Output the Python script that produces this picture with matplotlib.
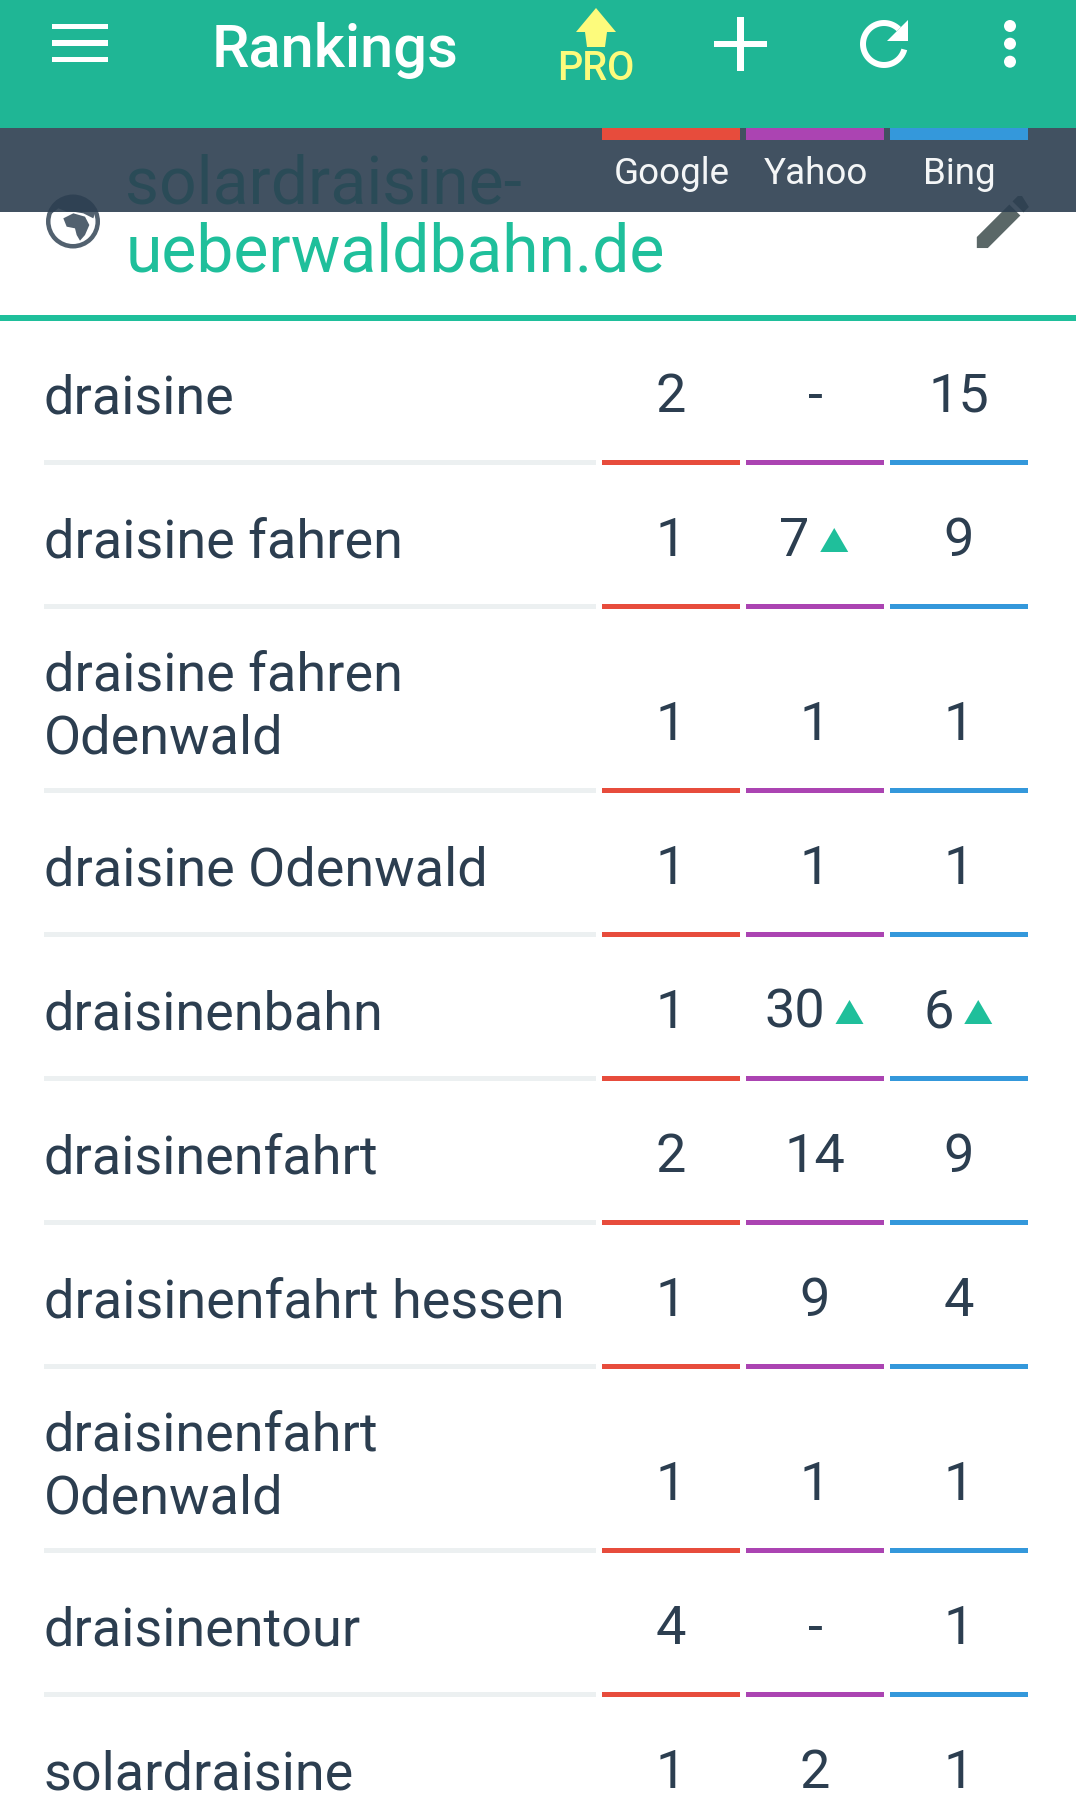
import matplotlib
matplotlib.use("Agg")
import matplotlib.pyplot as plt
import numpy as np

keywords = ["draisine", "draisine fahren", "draisine fahren\nOdenwald", "draisine Odenwald",
            "draisinenbahn", "draisinenfahrt", "draisinenfahrt hessen",
            "draisinenfahrt\nOdenwald", "draisinentour", "solardraisine"]
google = ["2", "1", "1", "1", "1", "2", "1", "1", "4", "1"]
yahoo = ["-", "7", "1", "1", "30", "14", "9", "1", "-", "2"]
bing = ["15", "9", "1", "1", "6", "9", "4", "1", "1", "1"]
yahoo_up = [1, 4]   # rows with a green arrow in the yahoo column
bing_up = [4]
engines = ["Google", "Yahoo", "Bing"]
engine_colors = ["#e74c3c", "#ab44b2", "#3498db"]

TEAL = "#1fbf9b"
BAR = "#1fb695"
DARK = "#2c3e50"
YELLOW = "#fdfb7c"
FONT = "Roboto"

col_left = [602, 746, 890]
col_w = 138
col_mid = [x + col_w / 2 for x in col_left]

plt.rcParams["font.family"] = [FONT, "DejaVu Sans"]
fig = plt.figure(figsize=(10.76, 18.04), dpi=100)
ax = fig.add_axes([0, 0, 1, 1])
ax.set_xlim(0, 1076)
ax.set_ylim(1804, 0)
ax.axis("off")


def rect(x0, y0, x1, y1, color, **kw):
    ax.fill([x0, x1, x1, x0], [y0, y0, y1, y1], color=color, lw=0, **kw)


def icon(points, x0, y0, scale, color, **kw):
    pts = np.array(points)
    ax.fill(x0 + pts[:, 0] * scale, y0 + pts[:, 1] * scale, color=color, lw=0, **kw)


# table rows
y = 318.5
for i, kw in enumerate(keywords):
    lines = kw.split("\n")
    two = len(lines) == 2
    y += 184 if two else 144
    base = y - (37 if two else 48.5)
    for n, line in enumerate(reversed(lines)):
        ax.text(44, base - n * 63, line, fontsize=38.9, color=DARK, va="baseline", ha="left")
    rect(44, y - 2.5, 596, y + 2.5, "#ecf0f1")
    for j, vals in enumerate([google, yahoo, bing]):
        rect(col_left[j], y - 2.5, col_left[j] + col_w, y + 2.5, engine_colors[j])
        up = (j == 1 and i in yahoo_up) or (j == 2 and i in bing_up)
        if up:
            w = 30.5 * len(vals[i])
            start = col_mid[j] - (w + 39) / 2 - 1
            ax.text(start + w / 2, y - 50.5, vals[i], fontsize=39, color=DARK, va="baseline", ha="center")
            tx = start + w + 10.5
            ax.fill([tx, tx + 28, tx + 14], [y - 54.5, y - 54.5, y - 78.5], color=TEAL, lw=0)
        else:
            ax.text(col_mid[j], y - 50.5, vals[i], fontsize=39, color=DARK, va="baseline", ha="center")

# site header, the band below is drawn over part of it
ax.text(125.5, 203.5, "solardraisine-", fontsize=47.5, color=TEAL, va="baseline")
ax.text(125.5, 272, "ueberwaldbahn.de", fontsize=47.5, color=TEAL, va="baseline")
rect(0, 315, 1076, 321, TEAL)

# globe
GLOBE = "#52616f"
ax.add_patch(plt.Circle((73, 221.5), 27, color=GLOBE, lw=0))
ax.add_patch(plt.Circle((73, 221.5), 22.5, color="white", lw=0))
icon([(100, 115), (130, 100), (165, 110), (178, 135), (165, 165), (150, 182), (140, 165), (135, 145), (110, 140)],
     30, 180, 1 / 3, GLOBE)
icon([(60, 105), (85, 85), (110, 95), (130, 95), (160, 100), (190, 115), (195, 100), (170, 60), (125, 48), (80, 60)],
     30, 180, 1 / 3, GLOBE)

# pencil
icon([(3, 17.25), (3, 21), (6.75, 21), (17.81, 9.94), (14.06, 6.19)], 968, 186.3, 2.94, "#5a6767")
icon([(20.71, 7.04), (18.37, 3.29), (16.96, 3.29), (15.13, 5.12), (18.88, 8.87)], 968, 186.3, 2.94, "#5a6767")

# dark band
rect(0, 128, 1076, 212, DARK, alpha=0.9, zorder=4)
for j, name in enumerate(engines):
    rect(col_left[j], 128, col_left[j] + col_w, 140, engine_colors[j], zorder=5)
    ax.text(col_mid[j] + 0.5, 184, name, fontsize=26.5, color="#f4f6f7", va="baseline", ha="center", zorder=5)

# top bar
rect(0, 0, 1076, 128, BAR, zorder=4)
ax.text(212, 67, "Rankings", fontsize=43, fontweight="medium", color="white", va="baseline", zorder=5)
for y0, y1 in [(24, 29), (40, 46), (57, 62)]:
    rect(52, y0, 108, y1, "white", zorder=5)
ax.fill([596, 616, 607, 605, 587, 585, 576], [8, 32, 32, 47, 47, 32, 32], color=YELLOW, lw=0, zorder=5)
ax.text(596, 80, "PRO", fontsize=28.5, fontweight="medium", color=YELLOW, va="baseline", ha="center", zorder=5)
rect(714, 41, 767, 47, "white", zorder=5)
rect(737, 17, 744, 71, "white", zorder=5)
ang = np.radians(np.linspace(45, 345, 60))
ring_x = np.r_[12 + 8 * np.cos(ang), (12 + 6 * np.cos(ang))[::-1]]
ring_y = np.r_[12 - 8 * np.sin(ang), (12 - 6 * np.sin(ang))[::-1]]
icon(np.c_[ring_x, ring_y], 848, 8, 3, "white", zorder=5)
icon([(13, 11), (20, 11), (20, 4)], 848, 8, 3, "white", zorder=5)
for cy in [26, 43.7, 61.7]:
    ax.add_patch(plt.Circle((1010, cy), 6, color="white", lw=0, zorder=5))

fig.savefig("out.png", dpi=100)
